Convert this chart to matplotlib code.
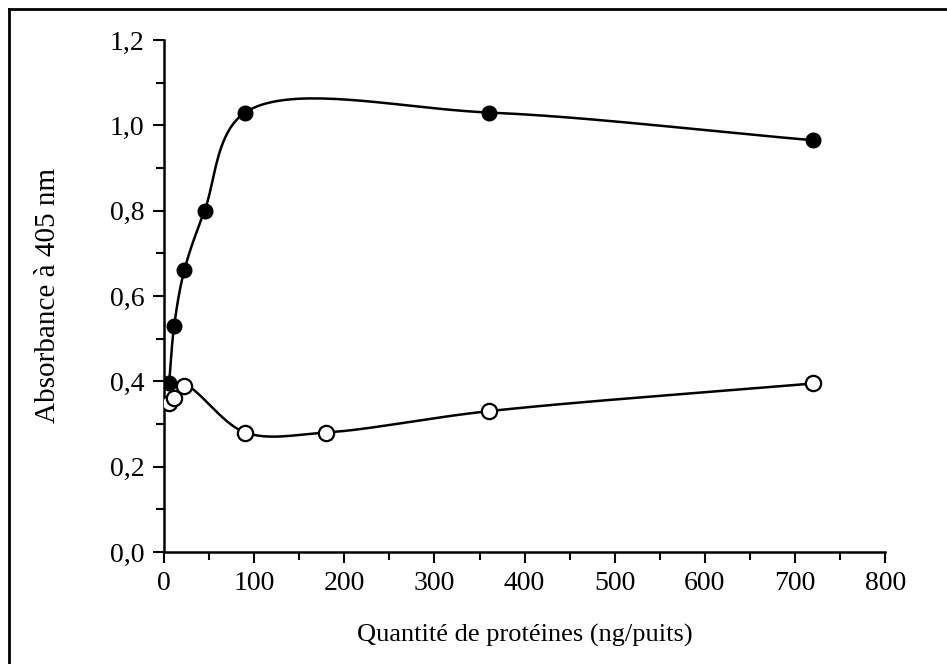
import matplotlib
matplotlib.use("Agg")
import matplotlib.pyplot as plt
import numpy as np
from matplotlib.lines import Line2D
from matplotlib.ticker import MultipleLocator, FuncFormatter

# data
x_closed = [5.6, 11.25, 22.5, 45, 90, 360, 720]
y_closed = [0.395, 0.53, 0.66, 0.80, 1.03, 1.03, 0.965]
x_open = [5.6, 11.25, 22.5, 90, 180, 360, 720]
y_open = [0.35, 0.36, 0.39, 0.28, 0.28, 0.33, 0.395]

x_ticks = [0, 100, 200, 300, 400, 500, 600, 700, 800]
y_ticks = [0.0, 0.2, 0.4, 0.6, 0.8, 1.0, 1.2]

# pixel scale used for the smoothing, so the curve bends like on screen
SX = 721.0 / 800
SY = 512.0 / 1.2


def smooth(xs, ys, n=40, alpha=0.5):
    """Centripetal Catmull-Rom curve through the points"""
    p = np.column_stack([np.asarray(xs) * SX, np.asarray(ys) * SY])
    p = np.vstack([2 * p[0] - p[1], p, 2 * p[-1] - p[-2]])
    out = []
    for i in range(1, len(p) - 2):
        p0, p1, p2, p3 = p[i - 1:i + 3]
        t0 = 0.0
        t1 = t0 + np.linalg.norm(p1 - p0) ** alpha
        t2 = t1 + np.linalg.norm(p2 - p1) ** alpha
        t3 = t2 + np.linalg.norm(p3 - p2) ** alpha
        t = np.linspace(t1, t2, n)[:, None]
        a1 = (t1 - t) / (t1 - t0) * p0 + (t - t0) / (t1 - t0) * p1
        a2 = (t2 - t) / (t2 - t1) * p1 + (t - t1) / (t2 - t1) * p2
        a3 = (t3 - t) / (t3 - t2) * p2 + (t - t2) / (t3 - t2) * p3
        b1 = (t2 - t) / (t2 - t0) * a1 + (t - t0) / (t2 - t0) * a2
        b2 = (t3 - t) / (t3 - t1) * a2 + (t - t1) / (t3 - t1) * a3
        c = (t2 - t) / (t2 - t1) * b1 + (t - t1) / (t2 - t1) * b2
        out.append(c)
    c = np.vstack(out)
    return c[:, 0] / SX, c[:, 1] / SY


plt.rcParams['font.family'] = ['Liberation Serif', 'DejaVu Serif']

fig = plt.figure(figsize=(9.47, 6.64), dpi=100)
ax = fig.add_axes([0.1732, 0.1687, 0.7615, 0.7711])

cx, cy = smooth(x_closed, y_closed)
ax.plot(cx, cy, color='black', lw=1.8, zorder=2)
ox, oy = smooth(x_open, y_open)
ax.plot(ox, oy, color='black', lw=1.8, zorder=2)

ax.plot(x_closed, y_closed, 'o', color='black', ms=10.5, zorder=3)
ax.plot(x_open, y_open, 'o', mfc='white', mec='black', mew=1.6, ms=11, zorder=3)

ax.set_xlim(0, 800)
ax.set_ylim(0, 1.2)
ax.set_xticks(x_ticks)
ax.set_yticks(y_ticks)
ax.xaxis.set_minor_locator(MultipleLocator(50))
ax.yaxis.set_minor_locator(MultipleLocator(0.1))
ax.yaxis.set_major_formatter(FuncFormatter(lambda v, p: f"{v:.1f}".replace('.', ',')))
ax.tick_params(which='major', direction='out', length=8, width=1.5, labelsize=20, pad=6)
ax.tick_params(which='minor', direction='out', length=6, width=1.5)

for side in ['top', 'right']:
    ax.spines[side].set_visible(False)
for side in ['left', 'bottom']:
    ax.spines[side].set_linewidth(1.8)

ax.set_xlabel('Quantité de protéines (ng/puits)', fontsize=19, labelpad=20)
ax.set_ylabel('Absorbance à 405 nm', fontsize=21, labelpad=35)

# scanned page frame (only left and top edges are in view)
fig.add_artist(Line2D([9 / 947, 9 / 947], [0, 1 - 9 / 664], transform=fig.transFigure, color='black', lw=2))
fig.add_artist(Line2D([9 / 947, 1], [1 - 9 / 664, 1 - 9 / 664], transform=fig.transFigure, color='black', lw=2))

fig.savefig('out.png', dpi=100)
